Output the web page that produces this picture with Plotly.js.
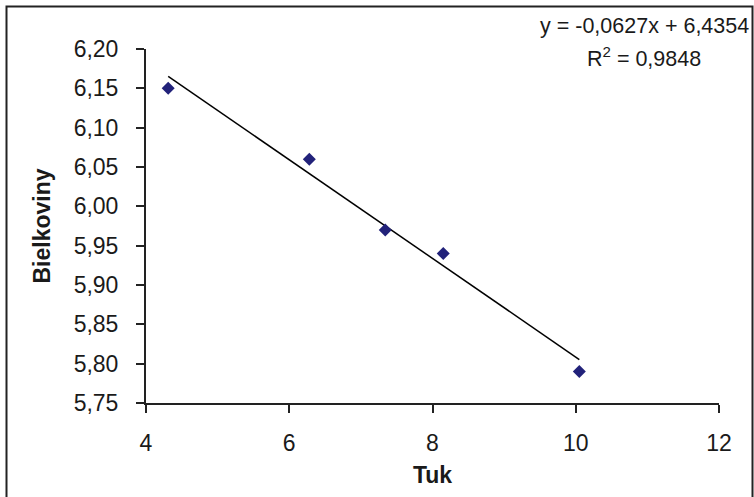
<!DOCTYPE html>
<html>
<head>
<meta charset="utf-8">
<script src="https://cdn.plot.ly/plotly-3.0.1.min.js"></script>
<style>html,body{margin:0;padding:0;background:#fff;}#chart{width:754px;height:497px;}</style>
</head>
<body>
<div id="chart"></div>
<script>
// Data
const tuk = [4.31, 6.28, 7.34, 8.15, 10.05];
const bielkoviny = [6.15, 6.06, 5.97, 5.94, 5.79];
// Trendline coefficients as shown on chart
const slope = -0.0627;
const intercept = 6.4354;
const r2 = 0.9848;
const xTickVals = [4, 6, 8, 10, 12];
const yTickVals = [5.75, 5.80, 5.85, 5.90, 5.95, 6.00, 6.05, 6.10, 6.15, 6.20];

const xMin = Math.min(...tuk), xMax = Math.max(...tuk);
const trendX = [xMin, xMax];
const trendY = trendX.map(x => slope * x + intercept);

const fmt = (v, d) => v.toFixed(d).replace('.', ',');
const eqText = 'y = ' + fmt(slope, 4) + 'x + ' + fmt(intercept, 4);
const r2Text = 'R<sup>2</sup> = ' + fmt(r2, 4);

const ink = '#1a1a1a';
const L = 146, R = 35, T = 49, B = 94, W = 754, H = 497;
const pw = W - L - R, ph = H - T - B;
const px = p => (p - L) / pw;
const py = p => (H - B - p) / ph;

const traces = [
  {
    x: trendX, y: trendY, type: 'scatter', mode: 'lines',
    line: {color: '#000', width: 1.5}, hoverinfo: 'skip', showlegend: false
  },
  {
    x: tuk, y: bielkoviny, type: 'scatter', mode: 'markers',
    marker: {symbol: 'diamond', size: 10, color: '#22227a', line: {width: 0}},
    showlegend: false
  }
];

const axisCommon = {
  showgrid: false, zeroline: false, showline: true, linewidth: 2, linecolor: '#222',
  ticks: 'outside', ticklen: 8, tickwidth: 2, tickcolor: '#222',
  tickfont: {family: 'Liberation Sans, Arial, sans-serif', size: 23, color: ink}
};

const layout = {
  width: W, height: H,
  margin: {l: L, r: R, t: T, b: B, pad: 0},
  paper_bgcolor: '#fff', plot_bgcolor: '#fff',
  separators: ', ',
  showlegend: false,
  xaxis: Object.assign({}, axisCommon, {
    range: [4, 12], tickvals: xTickVals, ticktext: xTickVals.map(v => String(v)),
    ticklabelstandoff: 10,
    title: {text: '<b>Tuk</b>', font: {family: 'Liberation Sans, Arial, sans-serif', size: 23, color: ink}, standoff: 12}
  }),
  yaxis: Object.assign({}, axisCommon, {
    range: [5.75, 6.20], tickvals: yTickVals, ticktext: yTickVals.map(v => fmt(v, 2)),
    ticklabelstandoff: 13,
    title: {text: '<b>Bielkoviny</b>', font: {family: 'Liberation Sans, Arial, sans-serif', size: 23, color: ink}, standoff: 17}
  }),
  annotations: [
    {xref: 'paper', yref: 'paper', x: px(644), y: py(26), text: eqText, showarrow: false,
     xanchor: 'center', yanchor: 'middle', font: {family: 'Liberation Sans, Arial, sans-serif', size: 21.5, color: ink}},
    {xref: 'paper', yref: 'paper', x: px(644), y: py(57), text: r2Text, showarrow: false,
     xanchor: 'center', yanchor: 'middle', font: {family: 'Liberation Sans, Arial, sans-serif', size: 21.5, color: ink}}
  ],
  shapes: [
    {type: 'rect', xref: 'paper', yref: 'paper', x0: px(6.5), x1: px(752.5), y0: py(510), y1: py(6.5),
     line: {color: '#222', width: 2}, fillcolor: 'rgba(0,0,0,0)', layer: 'above'}
  ]
};

Plotly.newPlot('chart', traces, layout, {displayModeBar: false, staticPlot: true});
</script>
</body>
</html>
